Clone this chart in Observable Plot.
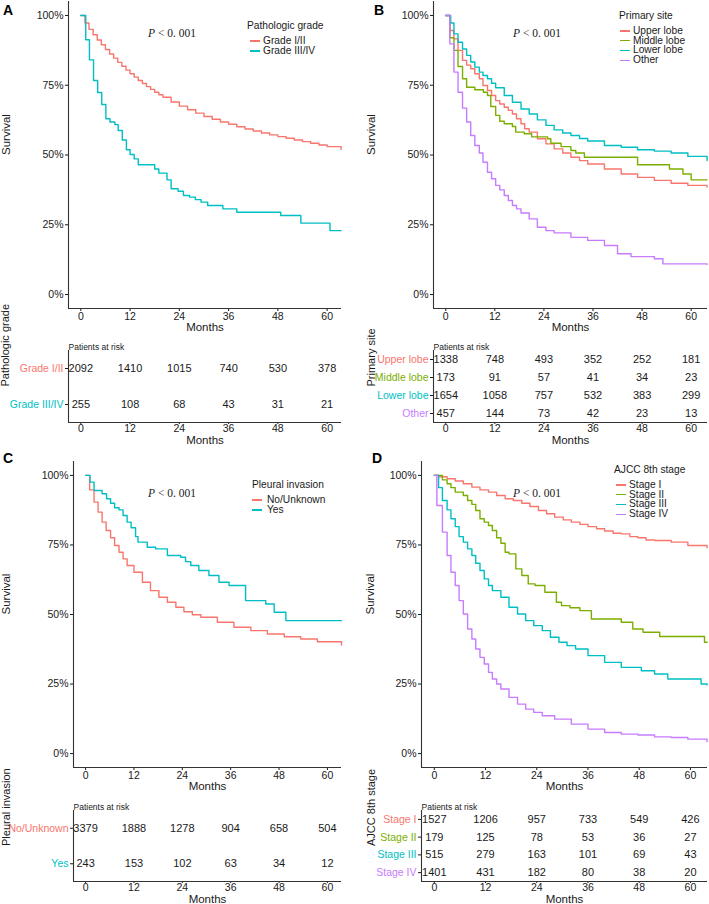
<!DOCTYPE html>
<html><head><meta charset="utf-8">
<script src="https://cdn.jsdelivr.net/npm/d3@7"></script>
<script src="https://cdn.jsdelivr.net/npm/@observablehq/plot@0.6"></script>
<style>
body{margin:0;background:#fff;}
#root{position:relative;width:709px;height:904px;overflow:hidden;font-family:"Liberation Sans",Arial,Helvetica,sans-serif;color:#1a1a1a;}
.t{position:absolute;white-space:nowrap;}
svg{overflow:visible;}
</style></head><body><div id="root"></div>
<script>
// ---------- shared ----------
const monthTicks = [0, 12, 24, 36, 48, 60];
const survTicks = [0, 0.25, 0.5, 0.75, 1];
const hue2 = ["#F8766D", "#00BFC4"];
const hue4 = ["#F8766D", "#7CAE00", "#00BFC4", "#C77CFF"];

// ---------- A: Pathologic grade ----------
const gradeGroups = ["Grade I/II", "Grade III/IV"];
const gradeI_II_t = [0,1,2,3,4,5,6,7,8,9,10,11,12,13,14,15,16,17,18,19,20,22,24,26,28,30,32,34,36,38,40,42,44,46,48,50,52,54,56,58,60,63.4];
const gradeI_II_s = [1.0,0.973,0.95,0.931,0.912,0.895,0.878,0.862,0.847,0.832,0.818,0.804,0.791,0.779,0.767,0.756,0.745,0.735,0.725,0.716,0.707,0.69,0.675,0.662,0.65,0.638,0.628,0.618,0.61,0.601,0.593,0.586,0.579,0.572,0.566,0.56,0.554,0.548,0.542,0.536,0.53,0.52];
const gradeIII_IV_t = [0,1.2,2.1,3.1,4.1,5.1,6.1,7.1,8.3,9.1,10.1,11.1,12,13,14,18,19,21,22,23.7,25,26.5,27.9,29.3,30.9,34.6,38,48.7,53.6,60.7,63.4];
const gradeIII_IV_s = [1.0,0.913,0.841,0.767,0.724,0.681,0.63,0.618,0.609,0.588,0.554,0.519,0.502,0.486,0.465,0.45,0.435,0.411,0.379,0.37,0.355,0.349,0.34,0.331,0.319,0.307,0.295,0.283,0.256,0.229,0.229];
const gradeRiskI_II = [2092, 1410, 1015, 740, 530, 378];
const gradeRiskIII_IV = [255, 108, 68, 43, 31, 21];

// ---------- B: Primary site ----------
const siteGroups = ["Upper lobe", "Middle lobe", "Lower lobe", "Other"];
const upper_t = [0,1,2,3,4.1,5.1,6.1,7.1,8.2,9.1,10.2,11.2,12.2,13.2,14.3,15.3,16.3,17.3,18.4,19.3,20.4,22.4,24.5,26.5,28.6,30.6,32.7,34.7,38.8,42.9,46.9,51,55.1,59.2,63.9];
const upper_s = [1,0.946,0.916,0.875,0.839,0.822,0.809,0.791,0.773,0.749,0.731,0.713,0.695,0.683,0.671,0.66,0.647,0.63,0.612,0.594,0.582,0.558,0.54,0.522,0.507,0.492,0.48,0.468,0.45,0.432,0.42,0.409,0.399,0.391,0.385];
const middle_t = [0,1,2,3,4.1,5.1,7.1,9.2,10.2,11,12.2,13.2,14.3,16.3,17.1,19.2,21,24.9,25.7,28.2,30.6,31.8,33.9,46.9,54.7,58,60,63.9];
const middle_s = [1,0.92,0.875,0.817,0.773,0.743,0.734,0.725,0.713,0.674,0.642,0.621,0.612,0.602,0.582,0.576,0.565,0.558,0.542,0.53,0.516,0.507,0.492,0.465,0.45,0.432,0.411,0.411];
const lower_t = [0,1.2,2,3,4.1,5.1,6.1,7.1,8.2,9.1,10.2,11.2,12.2,14.3,16.3,18.4,20.4,22.4,24.5,26.5,28.6,30.6,32.7,34.7,38.8,42.9,46.9,51,55.1,59.2,63.9];
const lower_s = [1,0.973,0.934,0.904,0.88,0.857,0.833,0.815,0.797,0.785,0.773,0.757,0.741,0.713,0.689,0.665,0.647,0.626,0.606,0.59,0.579,0.57,0.559,0.55,0.534,0.528,0.519,0.514,0.507,0.495,0.48];
const other_t = [0,1,2,3,4.1,5.1,6.1,7.1,8.2,9.1,10.2,11.2,12.2,13.2,14.3,15.3,16.3,17.3,18.4,20.4,22.4,24.5,26.5,30.6,34.7,38.8,42,45.3,51,53.1,63.9];
const other_s = [1,0.898,0.797,0.725,0.668,0.618,0.57,0.534,0.507,0.474,0.438,0.415,0.391,0.375,0.355,0.337,0.319,0.307,0.292,0.271,0.241,0.229,0.221,0.205,0.194,0.176,0.146,0.136,0.128,0.11,0.108];
const siteRiskUpper = [1338, 748, 493, 352, 252, 181];
const siteRiskMiddle = [173, 91, 57, 41, 34, 23];
const siteRiskLower = [1654, 1058, 757, 532, 383, 299];
const siteRiskOther = [457, 144, 73, 42, 23, 13];

// ---------- C: Pleural invasion ----------
const pleuraGroups = ["No/Unknown", "Yes"];
const no_t = [0,1,2.1,3.1,4.1,5.1,6.2,7.2,8.3,9.3,10.3,12,14.1,16.1,18.2,20.3,22.4,24.4,26.5,28.6,32.7,36.8,41,45.1,49.3,53.4,57.5,63.5];
const no_s = [1,0.948,0.904,0.868,0.832,0.802,0.776,0.748,0.724,0.70,0.676,0.652,0.616,0.586,0.562,0.544,0.526,0.51,0.499,0.49,0.472,0.454,0.442,0.43,0.42,0.412,0.402,0.39];
const yes_t = [0,1.1,2.1,4.1,5.2,6.2,7.2,8.3,9.3,10.3,11.3,12.4,13,15.3,17.4,20.3,23.6,24.8,26.1,28.1,30.6,33.1,35.6,39.7,44.7,46.8,49.7,63.5];
const yes_s = [1,0.976,0.946,0.934,0.916,0.90,0.884,0.876,0.856,0.832,0.812,0.78,0.76,0.742,0.736,0.712,0.706,0.69,0.676,0.658,0.64,0.616,0.604,0.55,0.538,0.508,0.478,0.478];
const pleuraRiskNo = [3379, 1888, 1278, 904, 658, 504];
const pleuraRiskYes = [243, 153, 102, 63, 34, 12];

// ---------- D: AJCC 8th stage ----------
const stageGroups = ["Stage I", "Stage II", "Stage III", "Stage IV"];
const s1_t = [0,1,3,4.9,6.8,8.8,10.7,12.7,14.6,16.6,18.5,20.5,22.4,24.4,26.3,28.2,30.2,32.1,34.1,36,38,39.9,41.9,43.8,45.8,47.7,49.6,51.6,55.5,59.4,63.9];
const s1_s = [1,0.995,0.988,0.98,0.97,0.958,0.948,0.94,0.928,0.916,0.91,0.90,0.888,0.874,0.862,0.85,0.84,0.832,0.824,0.816,0.808,0.80,0.792,0.79,0.78,0.776,0.768,0.766,0.76,0.748,0.74];
const s2_t = [0,1.9,3,3.9,4.9,6.8,7.8,8.8,9.7,10.7,11.7,12.7,13.6,14.6,15.6,16.6,17.5,19.1,20.5,22,23.6,25.9,28.6,29.8,31.8,34.1,36.8,43.8,46.5,48.9,52.8,63.3,63.9];
const s2_s = [1,0.984,0.97,0.956,0.94,0.928,0.91,0.896,0.874,0.844,0.832,0.82,0.802,0.776,0.756,0.724,0.718,0.664,0.64,0.61,0.604,0.58,0.544,0.532,0.524,0.514,0.484,0.472,0.448,0.436,0.421,0.40,0.40];
const s3_t = [0,1,1.9,3,3.9,4.9,5.8,6.8,7.8,8.8,9.7,10.7,11.7,12.7,13.6,15.6,17.5,19.5,21.4,23.3,25.3,27.2,29.2,31.1,33.1,36,39.9,43.8,48.5,51.6,54.7,62.5,63.9];
const s3_s = [1,0.956,0.91,0.876,0.844,0.816,0.78,0.76,0.736,0.712,0.684,0.658,0.628,0.604,0.586,0.562,0.526,0.502,0.478,0.46,0.442,0.418,0.40,0.388,0.376,0.352,0.328,0.31,0.298,0.286,0.268,0.25,0.247];
const s4_t = [0,0.6,1.9,3,3.9,4.9,5.8,6.8,7.8,8.8,9.7,10.7,11.7,12.7,13.6,14.6,15.6,17.5,19.5,21.4,23.3,25.3,28.2,32.1,36,39.9,43.8,47.7,51.6,55.5,59.4,63.9];
const s4_s = [1,0.892,0.796,0.712,0.652,0.604,0.55,0.502,0.448,0.412,0.376,0.346,0.322,0.292,0.268,0.25,0.232,0.202,0.178,0.16,0.148,0.136,0.124,0.106,0.088,0.076,0.07,0.067,0.06,0.058,0.052,0.043];
const stageRiskI = [1527, 1206, 957, 733, 549, 426];
const stageRiskII = [179, 125, 78, 53, 36, 27];
const stageRiskIII = [515, 279, 163, 101, 69, 43];
const stageRiskIV = [1401, 431, 182, 80, 38, 20];

// ---------- layout ----------
const root = document.getElementById("root");
const FONT = '"Liberation Sans", Arial, Helvetica, sans-serif';
const AX = "#333";

const panels = [
  {letter:"A", ox:0, oy:0, w:354, mL:68, mR:13, mT:1, frameH:307, xd:[-3,63.5], survDx:-62,
   groups:gradeGroups, colors:hue2, times:[gradeI_II_t,gradeIII_IV_t], surv:[gradeI_II_s,gradeIII_IV_s],
   risk:[gradeRiskI_II,gradeRiskIII_IV], title:"Pathologic grade", tabTop:336, tabFrame:72, tabDx:-63,
   letterX:3, letterY:10, pX:148, pY:34, legX:247, legY:26, legLineX:250, legTextX:263, legStep:10},
  {letter:"B", ox:354, oy:0, w:355, mL:79, mR:2, mT:1, frameH:307, xd:[-3,64], survDx:-62,
   groups:siteGroups, colors:hue4, times:[upper_t,middle_t,lower_t,other_t], surv:[upper_s,middle_s,lower_s,other_s],
   risk:[siteRiskUpper,siteRiskMiddle,siteRiskLower,siteRiskOther], title:"Primary site", tabTop:336, tabFrame:72, tabDx:-62,
   letterX:374, letterY:10, pX:513, pY:34, legX:619, legY:16, legLineX:620, legTextX:633, legStep:9.8},
  {letter:"C", ox:0, oy:450, w:354, mL:73, mR:13, mT:11, frameH:306, xd:[-3,63.5], survDx:-67,
   groups:pleuraGroups, colors:hue2, times:[no_t,yes_t], surv:[no_s,yes_s],
   risk:[pleuraRiskNo,pleuraRiskYes], title:"Pleural invasion", tabTop:796, tabFrame:71, tabDx:-67,
   letterX:3, letterY:458, pX:148, pY:494, legX:252, legY:485, legLineX:252, legTextX:267, legStep:10},
  {letter:"D", ox:354, oy:450, w:355, mL:67, mR:2, mT:11, frameH:306, xd:[-3,64], survDx:-51,
   groups:stageGroups, colors:hue4, times:[s1_t,s2_t,s3_t,s4_t], surv:[s1_s,s2_s,s3_s,s4_s],
   risk:[stageRiskI,stageRiskII,stageRiskIII,stageRiskIV], title:"AJCC 8th stage", tabTop:796, tabFrame:71, tabDx:-50,
   letterX:372, letterY:458, pX:513, pY:494, legX:614, legY:470, legLineX:616, legTextX:629, legStep:9.8}
];

function place(el, left, top) {
  el.style.position = "absolute";
  el.style.left = left + "px";
  el.style.top = top + "px";
  root.appendChild(el);
}
function addText(html, left, cy, fs, extra) {
  const d = document.createElement("div");
  d.className = "t";
  d.innerHTML = html;
  d.style.fontSize = fs + "px";
  d.style.lineHeight = (fs * 1.2) + "px";
  d.style.left = left + "px";
  d.style.top = (cy - fs * 0.6) + "px";
  if (extra) Object.assign(d.style, extra);
  root.appendChild(d);
  return d;
}

const baseStyle = {fontFamily: FONT, fontSize: "10.5px", color: "#1a1a1a", background: "transparent", overflow: "visible"};

for (const p of panels) {
  // survival curves
  const curve = p.groups.flatMap((g, k) => p.times[k].map((t, i) => ({group: g, t, s: p.surv[k][i]})));
  const sh = p.mT + p.frameH + 28;
  const surv = Plot.plot({
    width: p.w, height: sh,
    marginLeft: p.mL, marginRight: p.mR, marginTop: p.mT, marginBottom: 28,
    style: baseStyle,
    x: {domain: p.xd},
    y: {domain: [-0.05, 1.05]},
    color: {domain: p.groups, range: p.colors},
    marks: [
      Plot.axisY({ticks: survTicks, tickFormat: d => Math.round(d * 100) + "%", tickSize: 3, tickPadding: 2, label: null, fontSize: 10.5}),
      Plot.axisX({ticks: monthTicks, tickSize: 3, tickPadding: 1, label: null, fontSize: 10.5}),
      Plot.ruleX([p.xd[0]], {stroke: AX, strokeWidth: 1.1}),
      Plot.ruleY([-0.05], {stroke: AX, strokeWidth: 1.1}),
      Plot.line(curve, {x: "t", y: "s", z: "group", stroke: "group", curve: "step-after", strokeWidth: 1.4}),
      Plot.text(["Months"], {text: d => d, frameAnchor: "bottom", dy: 22, fontSize: 11.5}),
      Plot.text(["Survival"], {text: d => d, frameAnchor: "left", dx: p.survDx, rotate: -90, fontSize: 11.5})
    ]
  });
  place(surv, p.ox, p.oy);

  // risk table
  const n = p.groups.length;
  const rows = p.groups.map((g, i) => ({group: g, yi: i + 0.5}));
  const cells = p.groups.flatMap((g, i) => monthTicks.map((t, j) => ({group: g, yi: i + 0.5, t, n: p.risk[i][j]})));
  const tab = Plot.plot({
    width: p.w, height: 14 + p.tabFrame + 25,
    marginLeft: p.mL, marginRight: p.mR, marginTop: 14, marginBottom: 25,
    style: baseStyle,
    x: {domain: p.xd},
    y: {domain: [n, 0]},
    color: {domain: p.groups, range: p.colors},
    marks: [
      Plot.axisY({ticks: rows.map(r => r.yi), tickFormat: () => "", tickSize: 3, label: null}),
      Plot.axisX({ticks: monthTicks, tickSize: 2, tickPadding: 0, label: null, fontSize: 10.5}),
      Plot.ruleX([p.xd[0]], {stroke: AX, strokeWidth: 1.1}),
      Plot.ruleY([n], {stroke: AX, strokeWidth: 1.1}),
      Plot.text(cells, {x: "t", y: "yi", text: d => String(d.n), fontSize: 11, fill: "#1a1a1a"}),
      Plot.text(rows, {x: () => p.xd[0], y: "yi", text: "group", fill: "group", textAnchor: "end", dx: -5, fontSize: 10.5}),
      Plot.text(["Patients at risk"], {text: d => d, frameAnchor: "top-left", dy: -7, textAnchor: "start", fontSize: 8.5}),
      Plot.text(["Months"], {text: d => d, frameAnchor: "bottom", dy: 21, fontSize: 11.5}),
      Plot.text([p.title], {text: d => d, frameAnchor: "left", dx: p.tabDx, rotate: -90, fontSize: 11})
    ]
  });
  place(tab, p.ox, p.tabTop);

  // panel letter
  addText(p.letter, p.letterX, p.letterY, 14, {fontWeight: "bold", color: "#000"});
  // p value
  addText('<i>P</i> &lt; 0. 001', p.pX, p.pY, 11.5, {fontFamily: '"Liberation Serif", "DejaVu Serif", serif'});
  // legend
  addText(p.title, p.legX, p.legY, 10.2);
  p.groups.forEach((g, i) => {
    const cy = p.legY + 15 + i * p.legStep;
    const ln = document.createElement("div");
    ln.style.position = "absolute";
    ln.style.left = p.legLineX + "px";
    ln.style.top = (cy - 0.7) + "px";
    ln.style.width = "10px";
    ln.style.height = "1.4px";
    ln.style.background = p.colors[i];
    root.appendChild(ln);
    addText(g, p.legTextX, cy, 10.2);
  });
}
</script></body></html>
